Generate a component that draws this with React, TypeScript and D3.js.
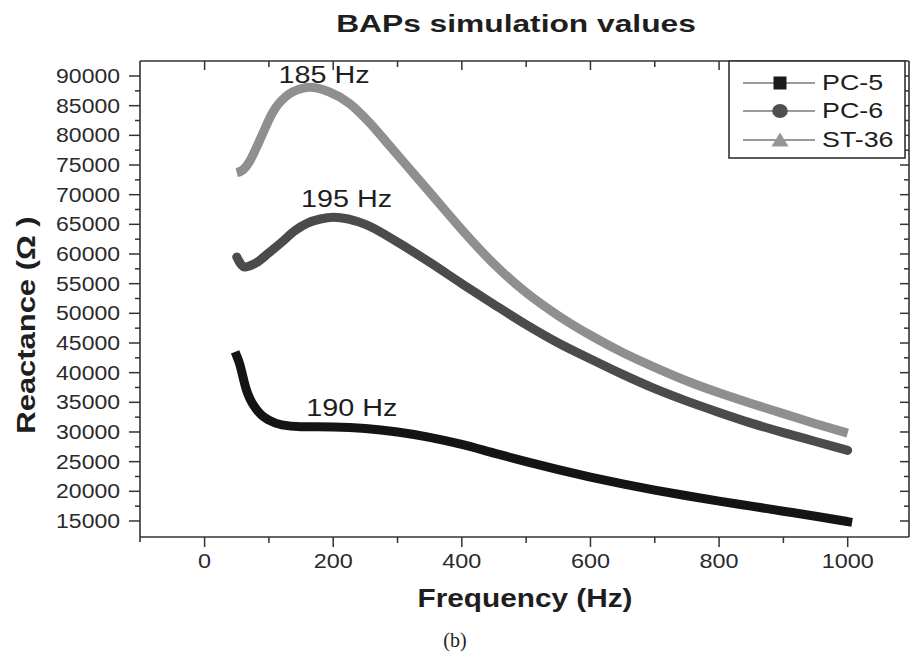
import React from 'react';
import * as d3 from 'd3';

// ---------- data ----------
const hzST36 = [50, 60, 70, 80, 90, 106, 127, 148, 163, 194, 225, 256, 288, 319, 350, 400, 450, 500, 550, 600, 650, 700, 750, 800, 850, 900, 950, 1000];
const valST36 = [73700, 74200, 75600, 77800, 80200, 83900, 86600, 87800, 88100, 87300, 85400, 82200, 78200, 74300, 70400, 64100, 58300, 53500, 49600, 46300, 43400, 40900, 38600, 36600, 34800, 33100, 31400, 29800];

const hzPC6 = [50, 55, 62, 70, 80, 100, 120, 140, 160, 180, 200, 250, 300, 350, 400, 450, 500, 550, 600, 650, 700, 750, 800, 850, 900, 950, 1000];
const valPC6 = [59500, 58500, 57800, 58000, 58500, 60200, 62000, 63900, 65200, 65900, 66200, 65000, 62000, 58600, 55000, 51500, 48100, 45000, 42300, 39700, 37300, 35200, 33300, 31500, 29900, 28400, 26900];

const hzPC5 = [50, 55, 60, 65, 70, 80, 90, 100, 120, 150, 200, 250, 300, 350, 400, 450, 500, 550, 600, 650, 700, 750, 800, 850, 900, 950, 1000];
const valPC5 = [42800, 41300, 39100, 37100, 35700, 33900, 32700, 32000, 31200, 30900, 30850, 30600, 30000, 29100, 27900, 26450, 25000, 23650, 22400, 21250, 20200, 19250, 18350, 17500, 16650, 15800, 14900];

const seriesNames = ['PC-5', 'PC-6', 'ST-36'];
const xTickValues = [0, 200, 400, 600, 800, 1000];
const xMinorValues = [-100, 100, 300, 500, 700, 900, 1100];
const yTickValues = [15000, 20000, 25000, 30000, 35000, 40000, 45000, 50000, 55000, 60000, 65000, 70000, 75000, 80000, 85000, 90000];
const yMinorValues = [12500, 17500, 22500, 27500, 32500, 37500, 42500, 47500, 52500, 57500, 62500, 67500, 72500, 77500, 82500, 87500, 92500];

const annotations = [
  { text: '185 Hz', hz: 115, val: 88870 },
  { text: '195 Hz', hz: 150, val: 67850 },
  { text: '190 Hz', hz: 158, val: 32700 },
];

// ---------- layout ----------
const W = 910;
const H = 658;
const FONT = '"Liberation Sans", Arial, Helvetica, sans-serif';
const AX = '#333';

const x = d3.scaleLinear().domain([-100, 1100]).range([140.3, 912]);
const y = d3.scaleLinear().domain([12300, 92530]).range([537, 61]);
const left = 140;
const right = 909;
const top = 61;
const bottom = 537;

type STextProps = {
  x: number; y: number; size: number; sx: number; anchor?: string; weight?: string | number;
  rotate?: number; fill?: string; family?: string; children: React.ReactNode;
};
function SText({ x, y, size, sx, anchor = 'start', weight = 'normal', rotate, fill = '#222', family = FONT, children }: STextProps) {
  const t = `translate(${x},${y})${rotate ? ` rotate(${rotate})` : ''} scale(${sx},1)`;
  return (
    <text transform={t} textAnchor={anchor} fontSize={size} fontWeight={weight} fill={fill} fontFamily={family}>
      {children}
    </text>
  );
}

function makePath(hz: number[], val: number[]) {
  const pts = hz.map((h, i) => [h, val[i]] as [number, number]);
  return d3.line<[number, number]>().x(d => x(d[0])).y(d => y(d[1])).curve(d3.curveMonotoneX)(pts) || '';
}

export default function App() {
  const series = [
    { name: seriesNames[2], hz: hzST36, val: valST36, color: '#8f8f8f', cap: 'butt' },
    { name: seriesNames[1], hz: hzPC6, val: valPC6, color: '#4b4b4b', cap: 'round' },
    { name: seriesNames[0], hz: hzPC5, val: valPC5, color: '#141414', cap: 'square' },
  ];

  const legendRows = [
    { name: seriesNames[0], y: 83, marker: 'square', color: '#1a1a1a' },
    { name: seriesNames[1], y: 111, marker: 'circle', color: '#505050' },
    { name: seriesNames[2], y: 140, marker: 'triangle', color: '#959595' },
  ];

  return (
    <svg width={W} height={H} style={{ position: 'absolute', left: 0, top: 0, background: '#fff' }}>
      <rect x={0} y={0} width={W} height={H} fill="#fff" />

      {/* title */}
      <SText x={516} y={31.5} size={23} sx={1.38} anchor="middle" weight="bold" fill="#1e1e1e">BAPs simulation values</SText>

      {/* curves */}
      {series.map(s => (
        <path key={s.name} d={makePath(s.hz, s.val)} fill="none" stroke={s.color} strokeWidth={9}
          strokeLinecap={s.cap as any} strokeLinejoin="round" />
      ))}

      {/* annotations */}
      {annotations.map(a => (
        <SText key={a.text} x={x(a.hz)} y={y(a.val)} size={23} sx={1.25} fill="#1e1e1e">{a.text}</SText>
      ))}

      {/* frame */}
      <g stroke={AX} strokeWidth={1.6} fill="none">
        <line x1={left} y1={top} x2={right} y2={top} />
        <line x1={left} y1={bottom} x2={right} y2={bottom} />
        <line x1={left} y1={top} x2={left} y2={bottom + 5} />
        <line x1={right} y1={top} x2={right} y2={bottom} />
      </g>

      {/* ticks */}
      <g stroke={AX} strokeWidth={1.5}>
        {xTickValues.map(v => (
          <g key={'xt' + v}>
            <line x1={x(v)} x2={x(v)} y1={bottom} y2={bottom + 10} />
            <line x1={x(v)} x2={x(v)} y1={top} y2={top + 9} />
          </g>
        ))}
        {xMinorValues.filter(v => x(v) < right - 2 && x(v) > left + 2).map(v => (
          <g key={'xm' + v}>
            <line x1={x(v)} x2={x(v)} y1={bottom} y2={bottom + 6} />
            <line x1={x(v)} x2={x(v)} y1={top} y2={top + 6} />
          </g>
        ))}
        {yTickValues.map(v => (
          <g key={'yt' + v}>
            <line x1={left - 11} x2={left} y1={y(v)} y2={y(v)} />
            <line x1={right - 9} x2={right} y1={y(v)} y2={y(v)} />
          </g>
        ))}
        {yMinorValues.filter(v => y(v) > top + 2 && y(v) < bottom - 2).map(v => (
          <g key={'ym' + v}>
            <line x1={left - 5} x2={left} y1={y(v)} y2={y(v)} />
            <line x1={right - 5} x2={right} y1={y(v)} y2={y(v)} />
          </g>
        ))}
      </g>

      {/* tick labels */}
      {xTickValues.map(v => (
        <SText key={'xl' + v} x={x(v)} y={568} size={19.5} sx={1.2} anchor="middle" fill="#2a2a2a">{String(v)}</SText>
      ))}
      {yTickValues.map(v => (
        <SText key={'yl' + v} x={120} y={y(v) + 7} size={19.5} sx={1.18} anchor="end" fill="#2a2a2a">{String(v)}</SText>
      ))}

      {/* axis titles */}
      <SText x={525} y={607} size={25} sx={1.19} anchor="middle" weight="bold" fill="#1e1e1e">Frequency (Hz)</SText>
      <SText x={35} y={325} size={26} sx={1.19} anchor="middle" weight="bold" rotate={-90} fill="#1e1e1e">Reactance (Ω )</SText>

      {/* legend */}
      <rect x={729} y={top} width={176} height={97} fill="#fff" stroke={AX} strokeWidth={1.6} />
      {legendRows.map(r => (
        <g key={r.name}>
          <line x1={743} x2={815} y1={r.y} y2={r.y} stroke="#7a7a7a" strokeWidth={1.5} />
          {r.marker === 'square' && <rect x={773.5} y={r.y - 6.5} width={13} height={13} fill={r.color} />}
          {r.marker === 'circle' && <ellipse cx={780} cy={r.y} rx={7.8} ry={7} fill={r.color} />}
          {r.marker === 'triangle' && <path d={`M${780 - 8.5},${r.y + 6.5} L${780 + 8.5},${r.y + 6.5} L780,${r.y - 7.5} Z`} fill={r.color} />}
          <SText x={822} y={r.y + 7} size={22} sx={1.22} fill="#1e1e1e">{r.name}</SText>
        </g>
      ))}

      {/* caption */}
      <text x={455} y={647} textAnchor="middle" fontSize={20} fontFamily='"Liberation Serif", "Times New Roman", serif' fill="#222">(b)</text>
    </svg>
  );
}
